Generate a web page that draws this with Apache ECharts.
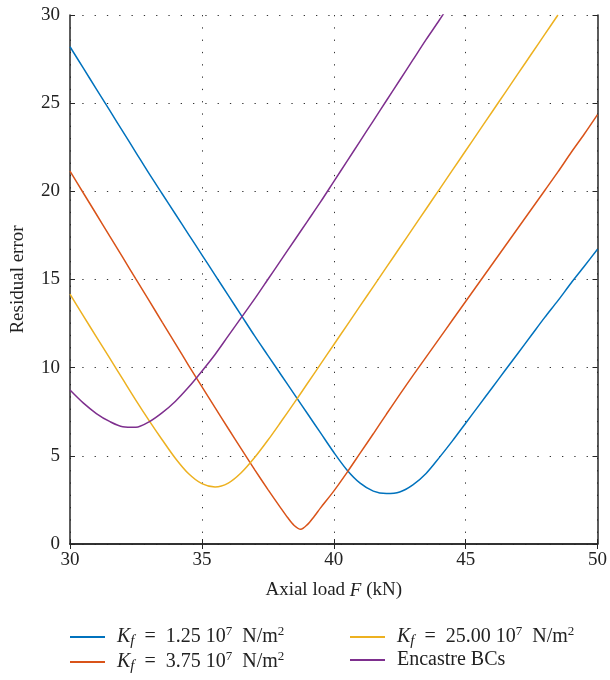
<!DOCTYPE html>
<html>
<head>
<meta charset="utf-8">
<script src="https://cdn.jsdelivr.net/npm/echarts@6/dist/echarts.min.js"></script>
<style>
html,body{margin:0;padding:0;background:#fff;}
#chart{width:610px;height:680px;}
</style>
</head>
<body>
<div id="chart"></div>
<script>
// Axis ticks
var xTicks = [30, 35, 40, 45, 50];
var yTicks = [0, 5, 10, 15, 20, 25, 30];

// Series names
var seriesNames = ['Kf1.25', 'Kf3.75', 'Kf25.00', 'Encastre'];

// K_f = 1.25e7 N/m^2
var blueF = [30,30.5,31,31.5,32,32.5,33,33.5,34,34.5,35,35.5,36,36.5,37,37.5,38,38.5,39,39.5,40,40.5,41,41.5,42,42.5,43,43.5,44,44.5,45,45.5,46,46.5,47,47.5,48,48.5,49,49.5,50];
var blueE = [28.2,27.0,25.8,24.6,23.4,22.2,21.0,19.85,18.7,17.55,16.4,15.25,14.1,12.95,11.8,10.7,9.6,8.5,7.4,6.3,5.2,4.2,3.45,3.0,2.86,2.95,3.35,4.0,4.9,5.85,6.85,7.85,8.85,9.85,10.85,11.85,12.85,13.8,14.8,15.75,16.72];

// K_f = 3.75e7 N/m^2
var redF = [30,30.5,31,31.5,32,32.5,33,33.5,34,34.5,35,35.5,36,36.5,37,37.5,38,38.25,38.5,38.75,39,39.25,39.5,40,40.5,41,41.5,42,42.5,43,43.5,44,44.5,45,45.5,46,46.5,47,47.5,48,48.5,49,49.5,50];
var redE = [21.15,19.92,18.7,17.47,16.25,15.02,13.8,12.57,11.35,10.12,8.92,7.73,6.55,5.38,4.22,3.1,2.02,1.5,1.05,0.83,1.1,1.55,2.05,3.0,4.05,5.15,6.25,7.37,8.47,9.55,10.6,11.65,12.7,13.75,14.8,15.85,16.9,17.95,19.0,20.05,21.1,22.2,23.25,24.35];

// K_f = 25.00e7 N/m^2
var yellowF = [30,30.5,31,31.5,32,32.5,33,33.5,34,34.5,35,35.5,36,36.5,37,37.5,38,38.5,39,39.5,40,40.5,41,41.5,42,42.5,43,43.5,44,44.5,45,45.5,46,46.5,47,47.5,48,48.5];
var yellowE = [14.17,12.95,11.75,10.55,9.35,8.15,7.0,5.9,4.85,3.98,3.42,3.23,3.45,4.05,4.9,5.88,6.93,8.0,9.1,10.2,11.3,12.4,13.5,14.6,15.7,16.8,17.9,19.0,20.1,21.2,22.3,23.4,24.5,25.6,26.7,27.8,28.9,30.0];

// Encastre BCs
var purpleF = [30,30.5,31,31.5,32,32.5,33,33.5,34,34.5,35,35.5,36,36.5,37,37.5,38,38.5,39,39.5,40,40.5,41,41.5,42,42.5,43,43.5,44,44.5];
var purpleE = [8.73,8.0,7.4,6.95,6.65,6.62,6.93,7.45,8.1,8.9,9.8,10.75,11.8,12.85,13.9,15.0,16.1,17.2,18.3,19.4,20.55,21.7,22.85,24.0,25.15,26.3,27.45,28.6,29.7,30.85];

function pairs(xs, ys) {
  return xs.map(function (x, i) { return [x, ys[i]]; });
}

var FONT = 'Liberation Serif';
var colors = ['#0072BD', '#D95319', '#EDB120', '#7E2F8E'];
var legendLabels = {
  'Kf1.25': '{i|K}{sub|f}{t|  =  1.25 10}{sup|7}{t|  N/m}{sup|2}',
  'Kf3.75': '{i|K}{sub|f}{t|  =  3.75 10}{sup|7}{t|  N/m}{sup|2}',
  'Kf25.00': '{i|K}{sub|f}{t|  =  25.00 10}{sup|7}{t|  N/m}{sup|2}',
  'Encastre': '{t|Encastre BCs}'
};
var rich = {
  t: {fontFamily: FONT, fontSize: 20, color: '#222', lineHeight: 24, verticalAlign: 'middle'},
  i: {fontFamily: FONT, fontSize: 20, fontStyle: 'italic', color: '#222', lineHeight: 24, verticalAlign: 'middle'},
  sub: {fontFamily: FONT, fontSize: 15, fontStyle: 'italic', color: '#222', lineHeight: 12, verticalAlign: 'bottom'},
  sup: {fontFamily: FONT, fontSize: 13, color: '#222', lineHeight: 8, verticalAlign: 'top'}
};

var gridLine = {show: true, lineStyle: {color: '#333', width: 1, type: [1.3, 11]}};
var axisLineStyle = {show: true, lineStyle: {color: '#262626', width: 1.5}};
var tickStyle = {show: true, inside: true, length: 5, lineStyle: {color: '#262626', width: 1}};

var chart = echarts.init(document.getElementById('chart'), null, {renderer: 'canvas'});
chart.setOption({
  backgroundColor: '#fff',
  animation: false,
  grid: {left: 70, right: 11, top: 15, bottom: 136, containLabel: false},
  xAxis: [{
    type: 'value', min: xTicks[0], max: xTicks[xTicks.length - 1], interval: 5,
    position: 'bottom',
    axisLine: axisLineStyle, axisTick: tickStyle,
    axisLabel: {fontFamily: FONT, fontSize: 19, color: '#222', margin: 7},
    splitLine: gridLine,
    name: 'Axial load {i|F} (kN)', nameLocation: 'middle', nameGap: 37,
    nameTextStyle: {fontFamily: FONT, fontSize: 19, color: '#222',
      rich: {i: {fontFamily: FONT, fontSize: 19, fontStyle: 'italic', color: '#222'}}}
  }, {
    type: 'value', min: xTicks[0], max: xTicks[xTicks.length - 1], interval: 5,
    position: 'top',
    axisLine: axisLineStyle, axisTick: tickStyle,
    axisLabel: {show: false}, splitLine: {show: false}
  }],
  yAxis: [{
    type: 'value', min: yTicks[0], max: yTicks[yTicks.length - 1], interval: 5,
    position: 'left',
    axisLine: axisLineStyle, axisTick: tickStyle,
    axisLabel: {fontFamily: FONT, fontSize: 19, color: '#222', margin: 10},
    splitLine: gridLine,
    name: 'Residual error', nameLocation: 'middle', nameGap: 42,
    nameTextStyle: {fontFamily: FONT, fontSize: 19, color: '#222'}
  }, {
    type: 'value', min: yTicks[0], max: yTicks[yTicks.length - 1], interval: 5,
    position: 'right',
    axisLine: axisLineStyle, axisTick: tickStyle,
    axisLabel: {show: false}, splitLine: {show: false}
  }],
  legend: [{
    data: [seriesNames[0], seriesNames[1]],
    orient: 'vertical', left: 70, top: 625, padding: 0,
    icon: 'rect', itemWidth: 35, itemHeight: 2, itemGap: 1,
    formatter: function (n) { return legendLabels[n]; },
    textStyle: {rich: rich, padding: [0, 0, 0, 7]}
  }, {
    data: [seriesNames[2], seriesNames[3]],
    orient: 'vertical', left: 350, top: 625, padding: 0,
    icon: 'rect', itemWidth: 35, itemHeight: 2, itemGap: 1,
    formatter: function (n) { return legendLabels[n]; },
    textStyle: {rich: rich, padding: [0, 0, 0, 7]}
  }],
  series: [
    {name: seriesNames[0], type: 'line', data: pairs(blueF, blueE)},
    {name: seriesNames[1], type: 'line', data: pairs(redF, redE)},
    {name: seriesNames[2], type: 'line', data: pairs(yellowF, yellowE)},
    {name: seriesNames[3], type: 'line', data: pairs(purpleF, purpleE)}
  ].map(function (s, k) {
    s.showSymbol = false;
    s.symbol = 'none';
    s.smooth = 0.3;
    s.clip = true;
    s.color = colors[k];
    s.lineStyle = {color: colors[k], width: 1.5};
    return s;
  })
});
</script>
</body>
</html>
